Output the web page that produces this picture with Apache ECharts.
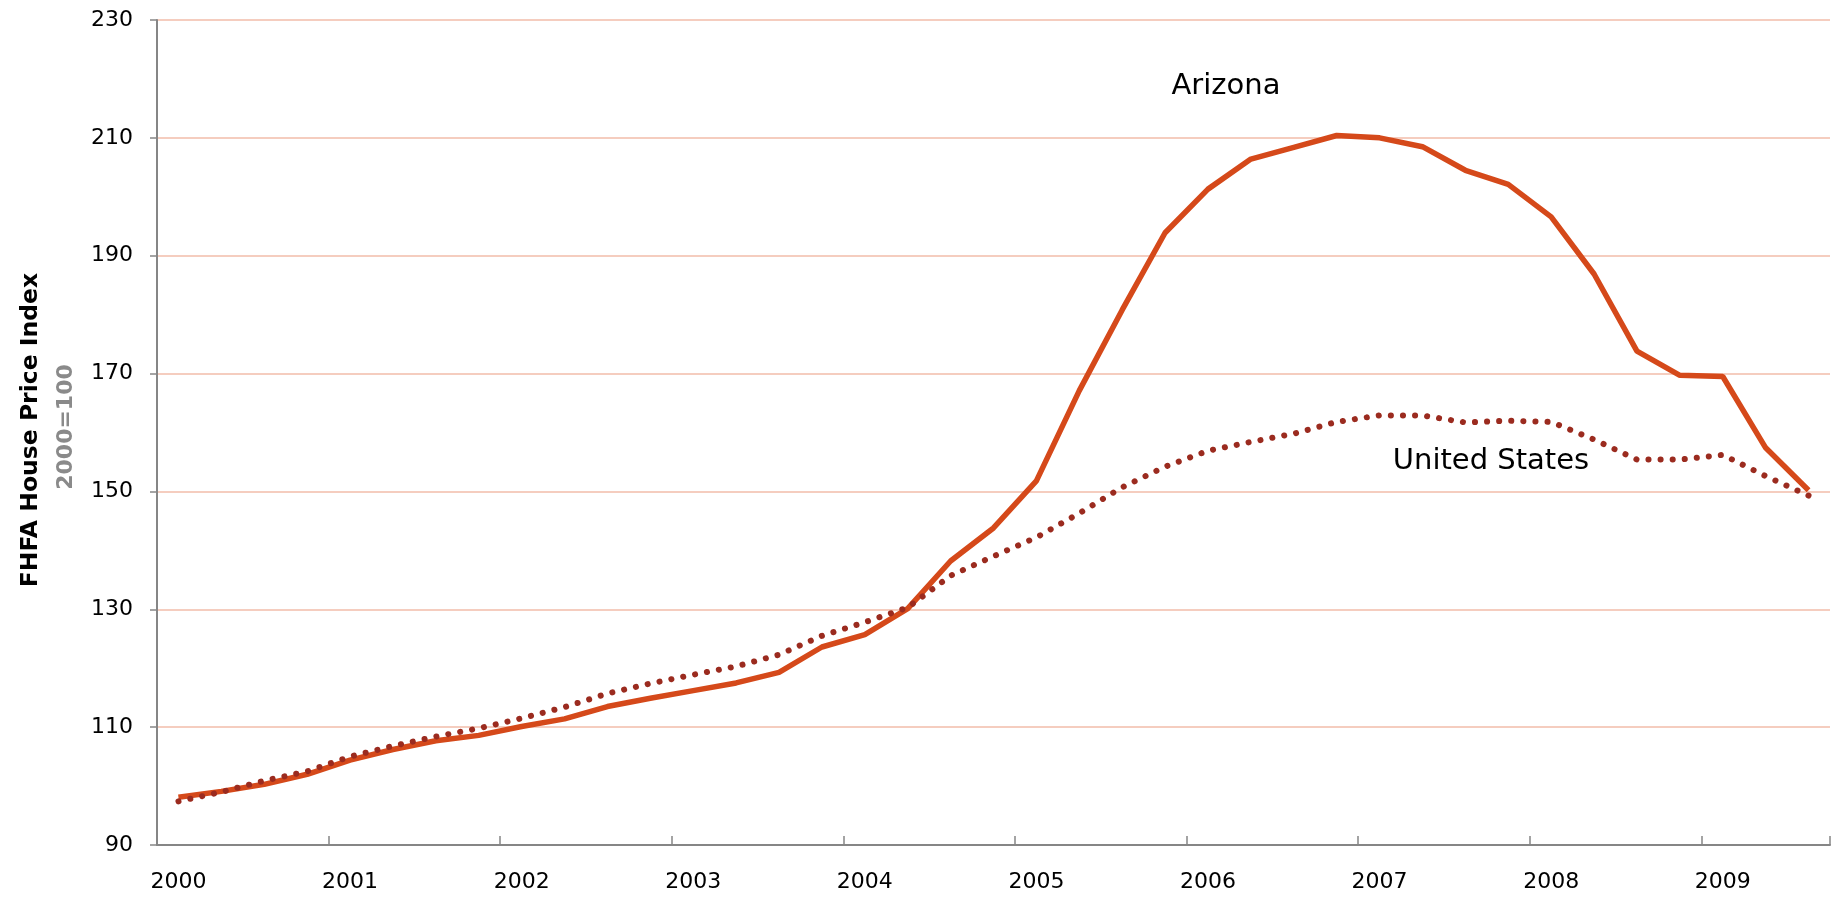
<!DOCTYPE html>
<html>
<head>
<meta charset="utf-8">
<title>FHFA House Price Index</title>
<script src="https://cdn.jsdelivr.net/npm/echarts@6/dist/echarts.min.js"></script>
<style>
  html, body { margin: 0; padding: 0; background: #fff; }
  #main { width: 1841px; height: 898px; }
</style>
</head>
<body>
<div id="main"></div>
<script>
// quarterly data, 2000 Q1 .. 2009 Q3
var years = ['2000', '2001', '2002', '2003', '2004', '2005', '2006', '2007', '2008', '2009'];
var quartersInLastYear = 3;

var arizona = [
  98.1, 99.1, 100.3, 102.0,
  104.4, 106.2, 107.7, 108.6,
  110.1, 111.4, 113.5, 114.9,
  116.2, 117.5, 119.3, 123.6,
  125.7, 130.1, 138.2, 143.8,
  151.8, 167.1, 180.8, 193.9,
  201.3, 206.4, 208.4, 210.4,
  210.0, 208.5, 204.5, 202.1,
  196.6, 186.9, 173.8, 169.7,
  169.5, 157.4, 150.2
];

var unitedStates = [
  97.4, 99.0, 100.9, 102.5,
  105.0, 106.8, 108.4, 109.8,
  111.5, 113.4, 115.7, 117.4,
  118.9, 120.3, 122.3, 125.5,
  127.8, 130.3, 135.7, 139.0,
  142.2, 146.3, 150.7, 154.2,
  156.9, 158.4, 159.8, 161.8,
  162.9, 162.9, 161.7, 162.0,
  161.8, 158.8, 155.4, 155.4,
  156.2, 152.6, 149.3
];

var yTicks = { min: 90, max: 230, step: 20 };

// build quarter categories from the years
var categories = [];
years.forEach(function (y, idx) {
  var n = idx === years.length - 1 ? quartersInLastYear : 4;
  for (var q = 1; q <= n; q++) categories.push(y + ' Q' + q);
});

var FONT = 'DejaVu Sans';
var chart = echarts.init(document.getElementById('main'), null, { renderer: 'canvas' });

var option = {
  backgroundColor: '#ffffff',
  animation: false,
  grid: { left: 157, right: 11, top: 20, bottom: 53, containLabel: false },
  xAxis: {
    type: 'category',
    data: categories,
    boundaryGap: true,
    axisLine: { show: true, lineStyle: { color: '#868686', width: 2 } },
    axisTick: { show: true, inside: true, length: 9, interval: 3, lineStyle: { color: '#868686', width: 1.5 } },
    axisLabel: {
      interval: 3,
      margin: 26,
      fontSize: 22,
      fontFamily: FONT,
      color: '#000',
      formatter: function (v) { return v.slice(0, 4); }
    },
    splitLine: { show: false }
  },
  yAxis: {
    type: 'value',
    min: yTicks.min,
    max: yTicks.max,
    interval: yTicks.step,
    axisLine: { show: true, lineStyle: { color: '#868686', width: 2 } },
    axisTick: { show: true, length: 7, lineStyle: { color: '#868686', width: 1.5 } },
    axisLabel: { margin: 24, fontSize: 22, fontFamily: FONT, color: '#000' },
    splitLine: { show: true, lineStyle: { color: '#F5CDBF', width: 2 } }
  },
  series: [
    {
      name: 'Arizona',
      type: 'line',
      data: arizona,
      symbol: 'none',
      lineStyle: { color: '#D5491A', width: 5.5 },
      z: 2
    },
    {
      name: 'United States',
      type: 'line',
      data: unitedStates,
      symbol: 'none',
      lineStyle: { color: '#9B2B1F', width: 6, type: [0.1, 12], cap: 'round' },
      z: 3
    }
  ],
  graphic: [
    {
      type: 'text', x: 31, y: 430, rotation: Math.PI / 2,
      style: { text: 'FHFA House Price Index', font: 'bold 23.5px "DejaVu Sans"', fill: '#000', textAlign: 'center', textVerticalAlign: 'middle' }
    },
    {
      type: 'text', x: 66, y: 427, rotation: Math.PI / 2,
      style: { text: '2000=100', font: 'bold 22px "DejaVu Sans"', fill: '#8A8A8A', textAlign: 'center', textVerticalAlign: 'middle' }
    },
    {
      type: 'text', x: 1226, y: 86,
      style: { text: 'Arizona', font: '29px "DejaVu Sans"', fill: '#000', textAlign: 'center', textVerticalAlign: 'middle' }
    },
    {
      type: 'text', x: 1491, y: 461,
      style: { text: 'United States', font: '29px "DejaVu Sans"', fill: '#000', textAlign: 'center', textVerticalAlign: 'middle' }
    }
  ]
};

chart.setOption(option);
</script>
</body>
</html>
